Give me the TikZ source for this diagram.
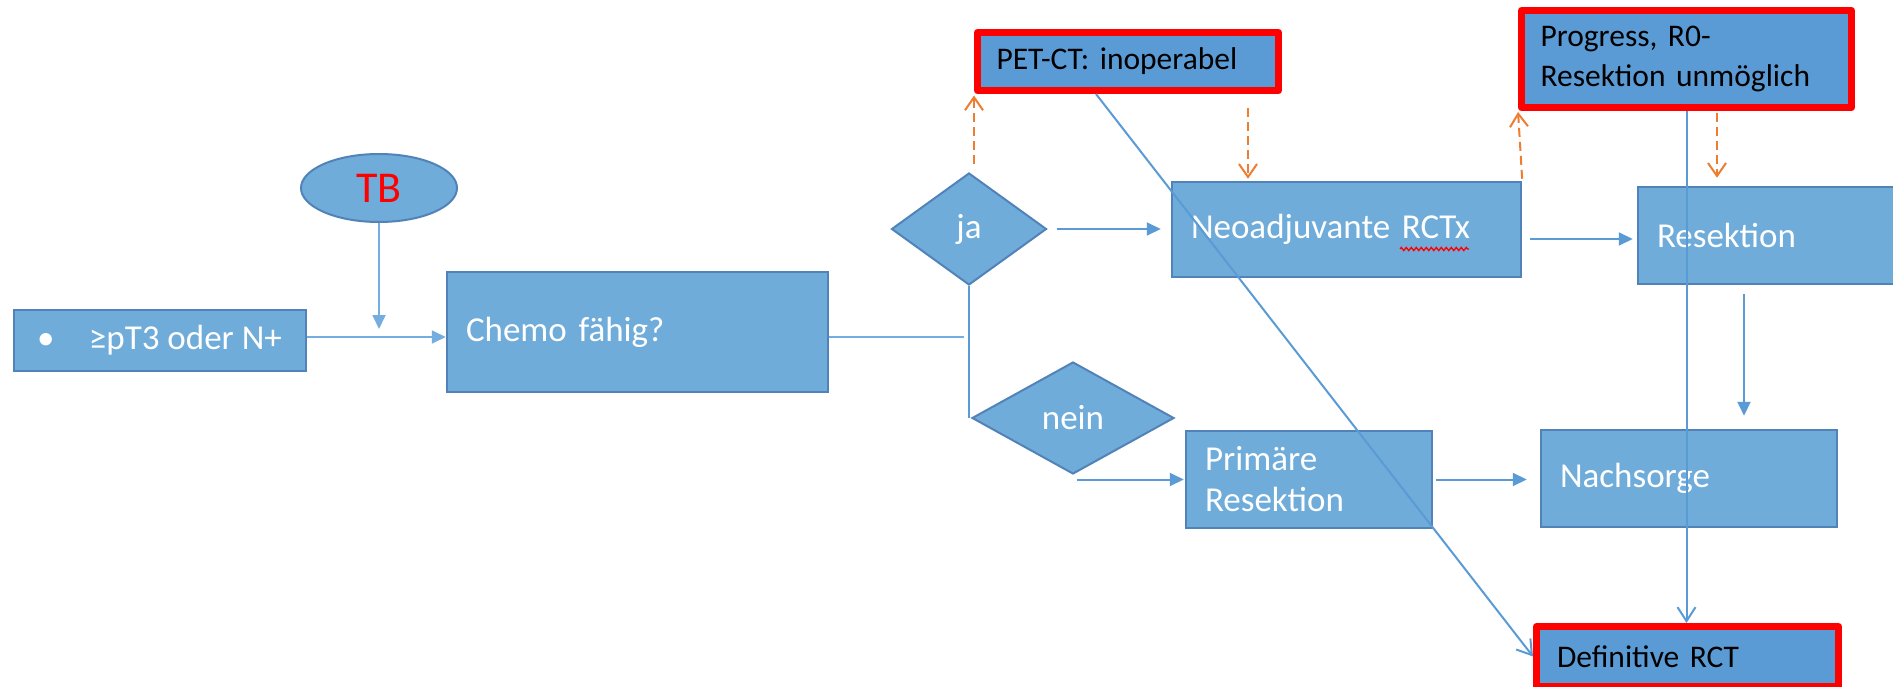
\documentclass[tikz,border=0pt]{standalone}
\usepackage{fontspec}
\setmainfont{Carlito}
\usetikzlibrary{shapes.geometric,arrows.meta,decorations.pathmorphing}
\definecolor{boxfill}{HTML}{6FACDA}
\definecolor{boxline}{HTML}{5283B8}
\definecolor{redfill}{HTML}{5B9BD5}
\definecolor{conn}{HTML}{5B9BD5}
\definecolor{lconn}{HTML}{74AEE0}
\definecolor{oran}{HTML}{ED7D31}
\definecolor{pptred}{HTML}{FF0000}
\begin{document}
\begin{tikzpicture}[x=1pt,y=-1pt,
  bluebox/.style={rectangle, fill=boxfill, draw=boxline, line width=2.5pt, text=white,
    font=\fontsize{35}{41}\selectfont, align=left, inner xsep=19pt, inner ysep=0pt},
  redbox/.style={rectangle, fill=redfill, draw=pptred, line width=7pt, line join=round, text=black,
    font=\fontsize{31.5}{40}\selectfont, align=left, inner xsep=19pt, inner ysep=0pt},
  decision/.style={diamond, fill=boxfill, draw=boxline, line width=2pt, text=white,
    font=\fontsize{35}{41}\selectfont, inner sep=0pt},
  conline/.style={draw=conn, line width=2pt},
  lline/.style={draw=lconn, line width=1.8pt},
  barr/.style={conline, -{Triangle[length=14pt,width=13pt]}},
  lbarr/.style={lline, -{Triangle[length=14pt,width=13pt]}},
  varr/.style={conline, -{Straight Barb[length=14pt,width=18pt]}},
  oarr/.style={draw=oran, line width=2pt, dash pattern=on 9pt off 5pt, -{Straight Barb[length=13pt,width=18pt]}}
]
\useasboundingbox (0,0) rectangle (1893,687);
\fill[white] (0,0) rectangle (1893,687);
\clip (0,0) rectangle (1893,687);

% nodes
\node[ellipse, fill=boxfill, draw=boxline, line width=2pt, minimum width=156pt, minimum height=68pt,
  text=pptred, font=\fontsize{44}{44}\selectfont, inner sep=0pt] (tb) at (379,188) {TB};
\node[bluebox, inner xsep=23pt, minimum height=61pt] (pt3) at (160,340.5)
  {\makebox[246pt][l]{\makebox[52pt][l]{•}≥pT3 oder N+}};
\node[bluebox, text width=343pt, minimum height=120pt] (chemo) at (637.5,332) {Chemo fähig?};
\node[decision, minimum width=155pt, minimum height=112pt] (ja) at (969,229) {ja};
\node[decision, minimum width=202pt, minimum height=112pt] (nein) at (1073,418) {nein};
\node[bluebox, text width=311pt, minimum height=95pt] (neo) at (1346.5,229.5) {Neoadjuvante RCTx};
\node[bluebox, text width=274pt, minimum height=97pt] (res) at (1794,235.5) {Resektion};
\node[bluebox, text width=208pt, minimum height=97pt] (prim) at (1309,479.5) {Primäre\\Resektion};
\node[bluebox, text width=258pt, minimum height=97pt] (nach) at (1689,478.5) {Nachsorge};
\node[redbox, text width=263pt, minimum height=58pt] (pet) at (1128,61.5) {PET-CT: inoperabel};
\node[redbox, text width=292pt, minimum height=97pt] (prog) at (1686.5,59) {Progress, R0-\\Resektion unmöglich};
\node[redbox, inner xsep=20.5pt, text width=261pt, minimum height=60pt] (def) at (1687.5,656.5) {Definitive RCT};

% spell-check squiggle under RCTx
\draw[pptred, line width=1.3pt, decorate, decoration={zigzag, segment length=5pt, amplitude=1.6pt}]
  (1400,249) -- (1469,249);

% connectors
\draw[lbarr] (tb.south) -- ([yshift=-106pt]tb.south);
\draw[lbarr] ([yshift=3.5pt]pt3.east) -- ([yshift=3.5pt]pt3.east -| chemo.west);
\draw[lline, shorten >=5pt] ([yshift=-5pt]chemo.east) -- ([yshift=-5pt]chemo.east -| ja.south);
\draw[conline] (ja.south) -- (ja.south |- nein.west);
\draw[barr, shorten <=9pt, shorten >=10pt] (ja.east) -- (ja.east -| neo.west);
\draw[barr, shorten >=1pt] ([xshift=4pt]nein.south |- prim.west) -- (prim.west);
\draw[barr, shorten <=3pt, shorten >=13pt] (prim.east) -- (prim.east -| nach.west);
\draw[barr, shorten <=8pt, shorten >=4pt] ([yshift=-3.5pt]res.west -| neo.east) -- ([yshift=-3.5pt]res.west);
\draw[barr, shorten <=9pt, shorten >=13pt] ([xshift=55pt]nach.north |- res.south) -- ([xshift=55pt]nach.north);
\draw[varr] ([xshift=-32pt]pet.south) -- (def.west);
\draw[varr] (prog.south) -- (prog.south |- def.north);

% orange dashed
\draw[oarr, shorten <=8pt, shorten >=1.5pt] (ja.north -| pet.south west) -- (pet.south west);
\draw[oarr, shorten <=14pt, shorten >=2pt] ([xshift=120pt]pet.south) -- ([xshift=120pt]pet.south |- neo.north);
\draw[oarr, shorten <=2pt, shorten >=1pt] (neo.north east) -- (prog.south west);
\draw[oarr, shorten <=2pt, shorten >=8pt] ([xshift=30.5pt]prog.south) -- ([xshift=30.5pt]prog.south |- res.north);
\end{tikzpicture}
\end{document}
